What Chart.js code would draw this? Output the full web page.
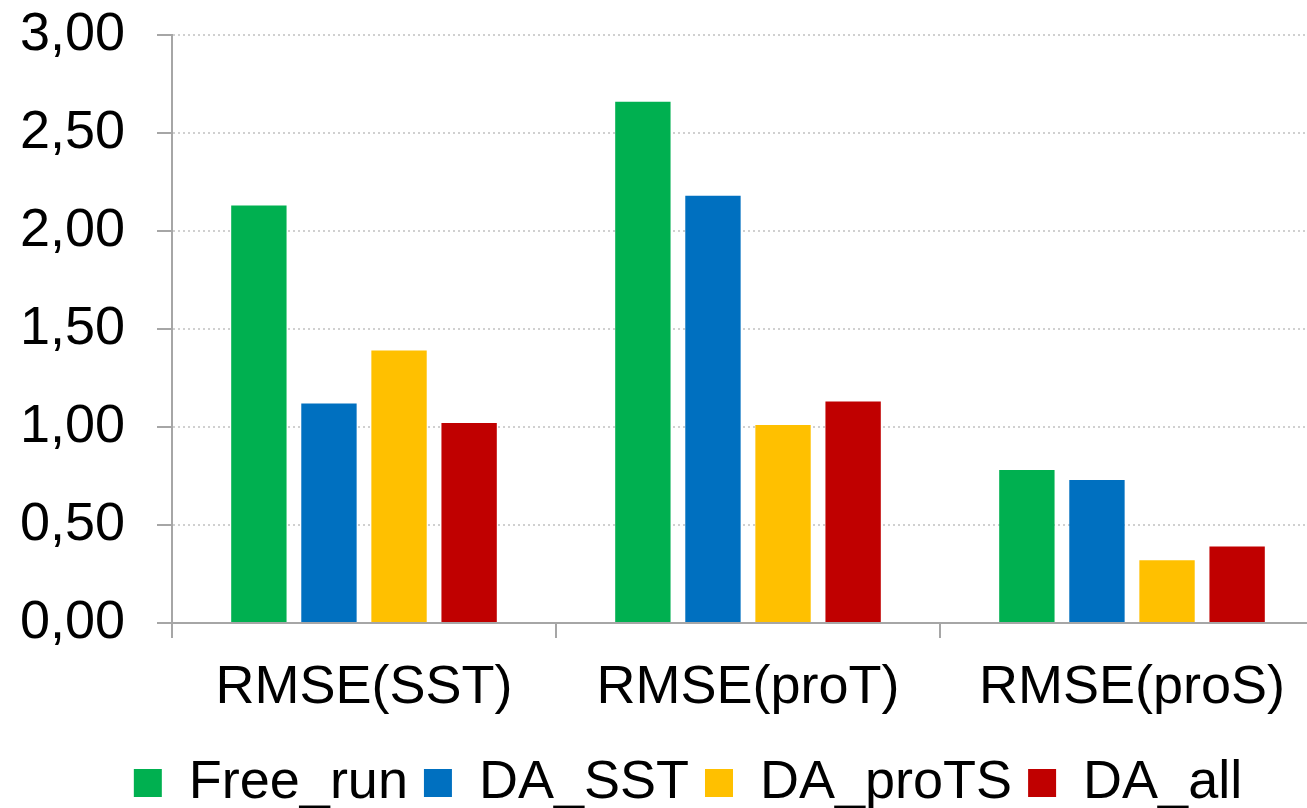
<!DOCTYPE html>
<html>
<head>
<meta charset="utf-8">
<script src="https://cdn.jsdelivr.net/npm/chart.js@4/dist/chart.umd.min.js"></script>
<style>
  html, body { margin: 0; padding: 0; background: #ffffff; }
  #wrap { width: 1307px; height: 808px; overflow: hidden; position: relative; }
  canvas { display: block; }
</style>
</head>
<body>
<div id="wrap"><canvas id="c" width="1324" height="808"></canvas></div>
<script>
const categories = ['RMSE(SST)', 'RMSE(proT)', 'RMSE(proS)'];
const seriesNames = ['Free_run', 'DA_SST', 'DA_proTS', 'DA_all'];
const freeRun = [2.13, 2.66, 0.78];
const daSST   = [1.12, 2.18, 0.73];
const daProTS = [1.39, 1.01, 0.32];
const daAll   = [1.02, 1.13, 0.39];
const seriesColors = ['#00B050', '#0070C0', '#FFC000', '#C00000'];
const yTicks = [0, 0.5, 1, 1.5, 2, 2.5, 3];

const seriesValues = [freeRun, daSST, daProTS, daAll];
const FONT = 'Liberation Sans, Arial, sans-serif';

const legendShift = {
  id: 'legendShift',
  afterLayout(chart) {
    const l = chart.legend;
    if (!l) return;
    l.left += 26; l.right += 26;
    l.top += 12; l.bottom += 12;
  }
};

new Chart(document.getElementById('c'), {
  type: 'bar',
  data: {
    labels: categories,
    datasets: seriesNames.map((name, i) => ({
      label: name,
      data: seriesValues[i],
      backgroundColor: seriesColors[i],
      borderWidth: 0,
      categoryPercentage: 0.73,
      barPercentage: 0.79
    }))
  },
  options: {
    responsive: false,
    animation: false,
    devicePixelRatio: 1,
    layout: { padding: { top: 35, left: 0, right: 0, bottom: 0 } },
    plugins: {
      tooltip: { enabled: false },
      legend: {
        position: 'bottom',
        labels: {
          color: '#000',
          font: { family: FONT, size: 54 },
          boxWidth: 28,
          boxHeight: 28,
          padding: 16
        }
      }
    },
    scales: {
      x: {
        grid: {
          offset: true,
          drawOnChartArea: false,
          drawTicks: true,
          tickLength: 15,
          color: '#A6A6A6',
          lineWidth: 2
        },
        border: { display: true, color: '#A6A6A6', width: 2 },
        ticks: {
          color: '#000',
          font: { family: FONT, size: 54 },
          padding: 18,
          maxRotation: 0
        },
        afterFit(scale) { scale.height = 105; }
      },
      y: {
        min: 0,
        max: 3,
        afterBuildTicks(scale) { scale.ticks = yTicks.map(v => ({ value: v })); },
        grid: {
          color: '#D0D0D0',
          lineWidth: 2,
          tickLength: 15,
          tickColor: '#A6A6A6',
          tickBorderDash: [],
          tickWidth: 2
        },
        border: { display: true, color: '#A6A6A6', width: 2, dash: [2, 3] },
        ticks: {
          color: '#000',
          font: { family: FONT, size: 54 },
          padding: 32,
          callback: (v) => Number(v).toFixed(2).replace('.', ',')
        },
        afterFit(scale) {
          scale.width = 172;
          scale.paddingTop = 0;
          scale.paddingBottom = 0;
        }
      }
    }
  },
  plugins: [legendShift]
});
</script>
</body>
</html>
